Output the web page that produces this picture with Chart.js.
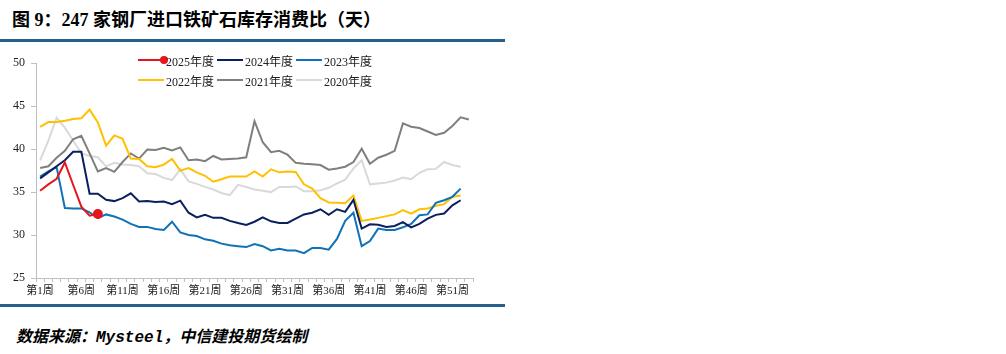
<!DOCTYPE html>
<html>
<head>
<meta charset="utf-8">
<script src="https://cdn.jsdelivr.net/npm/chart.js@4.4.1/dist/chart.umd.min.js"></script>
<style>
  body { margin: 0; background: #fff; width: 1006px; height: 354px; position: relative; overflow: hidden; }
  .title { position: absolute; left: 12px; top: 5px; font: bold 18px "Liberation Serif", "Noto Sans CJK SC"; color: #000; white-space: nowrap; }
  .rule { position: absolute; left: 0; width: 505px; height: 3px; background: #245f8e; }
  #wrap { position: absolute; left: 0; top: 50px; width: 490px; height: 255px; }
  .leg { position: absolute; height: 14px; font: 12px "Liberation Serif", "Noto Sans CJK SC"; color: #222; white-space: nowrap; }
  .leg .ln { position: absolute; left: 0; top: 6px; width: 26px; height: 2px; }
  .leg .dot { position: absolute; left: 22px; top: 3px; width: 8px; height: 8px; border-radius: 50%; }
  .leg span { position: absolute; left: 28px; top: -1px; }
  .source { position: absolute; left: 16px; top: 323px; font: italic bold 16px "Noto Sans CJK SC"; color: #000; white-space: nowrap; }
  .source .en { font-family: "Liberation Mono"; }
</style>
</head>
<body>
<div class="title">图 9：247 家钢厂进口铁矿石库存消费比（天）</div>
<div class="rule" style="top:39px"></div>
<div id="wrap"><canvas id="chart"></canvas></div>
<div id="legend"></div>
<div class="rule" style="top:304px"></div>
<div class="source">数据来源：<span class="en">Mysteel</span>，中信建投期货绘制</div>

<script>
// 第1周 ... 第53周
const weeks = [];
for (let i = 1; i <= 53; i++) weeks.push("第" + i + "周");

const yTicks = [25, 30, 35, 40, 45, 50];

const seriesNames = ["2025年度", "2024年度", "2023年度", "2022年度", "2021年度", "2020年度"];
const seriesColors = ["#e8141b", "#0b1f5e", "#0f72b8", "#ffc000", "#7f7f7f", "#d9d9d9"];

const y2025 = [35.15, 35.9, 36.55, 38.45, 35.85, 33.3, 32.25, 32.45];

const y2024 = [36.6, 37.3, 38.0, 38.7, 39.7, 39.7, 34.8, 34.8, 34.1, 33.95,
  34.3, 34.85, 33.9, 33.95, 33.85, 33.9, 33.6, 34.0, 32.6, 32.05,
  32.35, 32.0, 32.0, 31.65, 31.4, 31.18, 31.55, 32.05, 31.6, 31.4,
  31.4, 31.9, 32.4, 32.6, 33.0, 32.35, 33.0, 32.7, 34.1, 30.75,
  31.25, 31.2, 30.95, 31.05, 31.5, 30.9, 31.3, 31.9, 32.35, 32.5,
  33.45, 34.05];

const y2023 = [36.8, 37.4, 37.9, 33.15, 33.1, 33.1, 32.65, 31.97, 32.4, 32.15,
  31.8, 31.3, 30.95, 30.95, 30.7, 30.6, 31.55, 30.3, 30.0, 29.88,
  29.5, 29.33, 29.0, 28.8, 28.7, 28.6, 28.95, 28.7, 28.2, 28.4,
  28.2, 28.2, 27.9, 28.5, 28.5, 28.3, 29.55, 31.65, 32.6, 28.7,
  29.3, 30.75, 30.6, 30.6, 30.9, 31.3, 32.3, 32.4, 33.75, 34.05,
  34.45, 35.4];

const y2022 = [42.6, 43.15, 43.15, 43.3, 43.5, 43.6, 44.6, 43.1, 40.4, 41.6,
  41.2, 38.9, 38.85, 38.0, 37.9, 38.2, 38.85, 37.5, 37.8, 37.3,
  36.9, 36.2, 36.5, 36.8, 36.8, 36.8, 37.4, 36.8, 37.65, 37.3,
  37.4, 37.35, 35.9, 35.4, 34.3, 33.8, 33.75, 33.7, 34.6, 31.65,
  31.8, 32.0, 32.2, 32.4, 32.9, 32.5, 33.0, 33.1, 33.4, 33.6,
  34.45, 34.6];

const y2021 = [37.8, 38.0, 39.0, 39.8, 41.15, 41.55, 39.5, 37.4, 37.8, 37.35,
  38.5, 39.5, 38.9, 39.95, 39.9, 40.15, 39.85, 40.2, 38.7, 38.8,
  38.6, 39.2, 38.8, 38.85, 38.9, 39.05, 43.25, 40.8, 39.65, 39.8,
  39.35, 38.4, 38.3, 38.25, 38.15, 37.6, 37.75, 37.95, 38.5, 40.05,
  38.3, 39.0, 39.35, 39.8, 43.0, 42.6, 42.45, 42.05, 41.65, 41.9,
  42.7, 43.7, 43.45];

const y2020 = [38.7, 41.0, 43.65, 42.5, 41.0, 39.5, 39.2, 39.05, 38.0, 38.4,
  38.2, 38.15, 38.0, 37.2, 37.1, 36.65, 36.4, 37.65, 36.25, 35.95,
  35.6, 35.3, 34.9, 34.65, 35.85, 35.6, 35.3, 35.15, 35.0, 35.6,
  35.6, 35.65, 35.1, 35.1, 35.2, 35.5, 36.0, 36.45, 37.75, 38.7,
  35.9, 36.0, 36.1, 36.35, 36.7, 36.5, 37.25, 37.65, 37.7, 38.5,
  38.15, 37.95];

const seriesData = [y2025, y2024, y2023, y2022, y2021, y2020];

// legend (html, sits inside the plot like the original)
const legend = document.getElementById("legend");
seriesNames.forEach((name, i) => {
  const row = Math.floor(i / 3), col = i % 3;
  const item = document.createElement("div");
  item.className = "leg";
  item.style.left = (138 + col * 79) + "px";
  item.style.top = (53 + row * 20) + "px";
  let html = '<div class="ln" style="background:' + seriesColors[i] + '"></div>';
  if (i === 0) html += '<div class="dot" style="background:' + seriesColors[i] + '"></div>';
  html += "<span>" + name + "</span>";
  item.innerHTML = html;
  legend.appendChild(item);
});

const fontFamily = '"Liberation Serif", "Noto Sans CJK SC"';

new Chart(document.getElementById("chart"), {
  type: "line",
  data: {
    labels: weeks,
    datasets: seriesData.map((d, i) => ({
      label: seriesNames[i],
      data: d,
      borderColor: seriesColors[i],
      backgroundColor: seriesColors[i],
      borderWidth: 2,
      tension: 0,
      fill: false,
      // only the latest point of 2025 gets a marker
      pointRadius: i === 0 ? d.map((v, j) => (j === d.length - 1 ? 4 : 0)) : 0,
      pointHoverRadius: 0,
    })),
  },
  options: {
    responsive: true,
    maintainAspectRatio: false,
    animation: false,
    layout: { padding: { top: 10, right: 17, left: 0, bottom: 0 } },
    plugins: {
      legend: { display: false },
      tooltip: { enabled: false },
    },
    scales: {
      x: {
        offset: true,
        grid: { offset: true, drawOnChartArea: false, drawTicks: true, tickLength: 4, color: "#bfbfbf" },
        border: { display: true, color: "#bfbfbf", width: 1 },
        ticks: {
          autoSkip: false,
          maxRotation: 0,
          padding: 3,
          color: "#222",
          font: { family: fontFamily, size: 11 },
          callback: function (v, idx) { return idx % 5 === 0 ? weeks[idx] : ""; },
        },
        afterFit: (scale) => { scale.height = 27; },
      },
      y: {
        min: 25,
        max: 50,
        afterBuildTicks: (scale) => { scale.ticks = yTicks.map((v) => ({ value: v })); },
        grid: { drawOnChartArea: false, drawTicks: true, tickLength: 5, color: "#bfbfbf" },
        border: { display: true, color: "#bfbfbf", width: 1 },
        ticks: { padding: 6, color: "#222", font: { family: fontFamily, size: 12 } },
        afterFit: (scale) => { scale.width = 36; },
      },
    },
  },
});
</script>
</body>
</html>
